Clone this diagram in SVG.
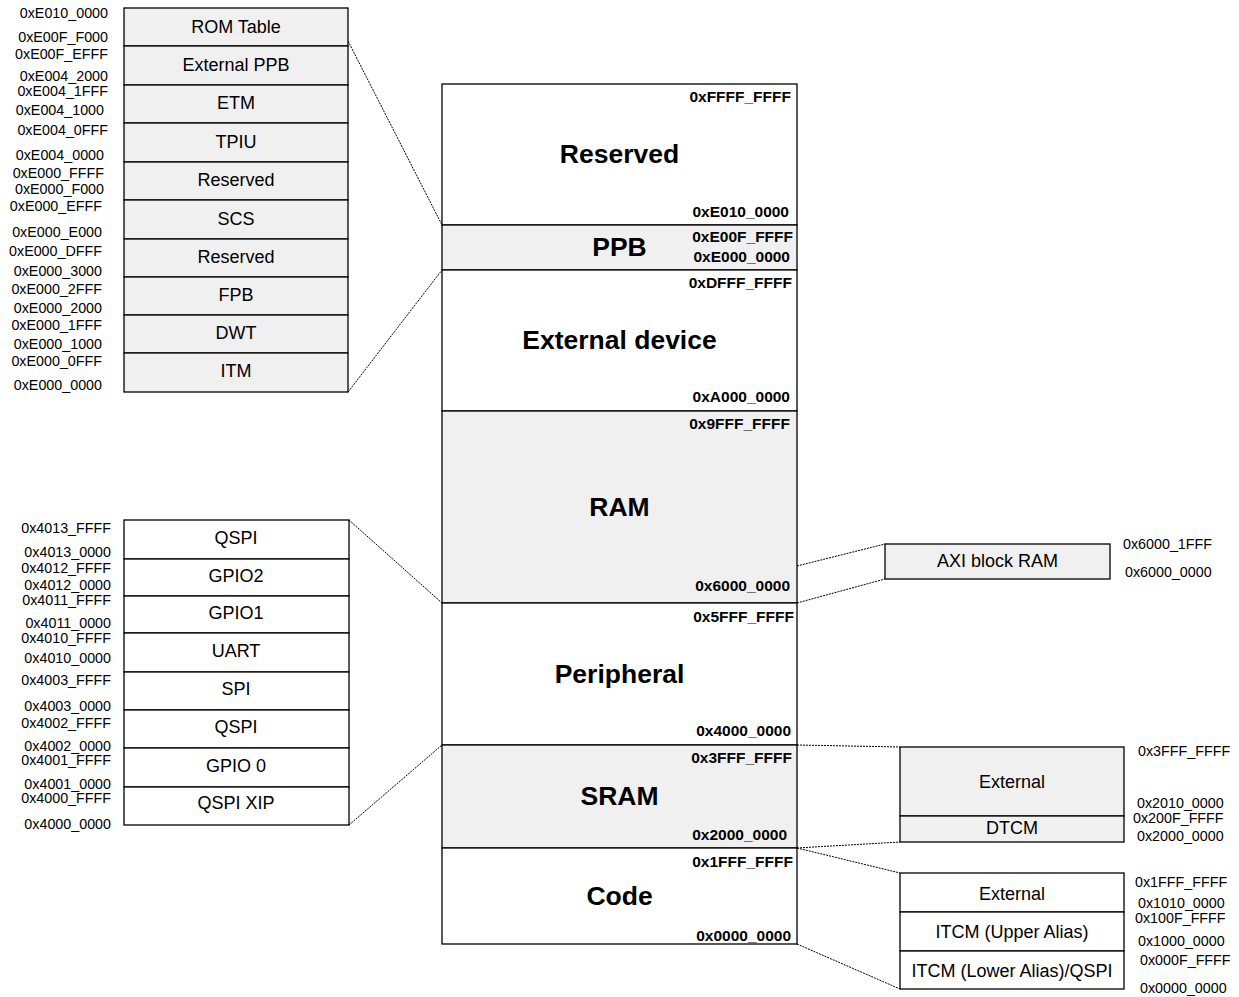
<svg xmlns="http://www.w3.org/2000/svg" width="1239" height="997" viewBox="0 0 1239 997">
<style>
.box{stroke:#000;stroke-width:1.3}
.g{fill:#f0f0f0}
.w{fill:#fff}
.lbl{font-family:"Liberation Sans",Arial,sans-serif;font-size:18px;fill:#000;text-anchor:middle}
.big{font-family:"Liberation Sans",Arial,sans-serif;font-size:26.5px;font-weight:bold;fill:#000;text-anchor:middle}
.ba{font-family:"Liberation Sans",Arial,sans-serif;font-size:15.5px;font-weight:bold;fill:#000;text-anchor:end}
.al{font-family:"Liberation Sans",Arial,sans-serif;font-size:14.3px;fill:#000;text-anchor:end}
.ar{font-family:"Liberation Sans",Arial,sans-serif;font-size:14.3px;fill:#000;text-anchor:start}
.dl{fill:none;stroke:#000;stroke-width:1;stroke-dasharray:2,1}
</style>
<rect width="1239" height="997" fill="#fff"/>

<g id="connectors">
<line class="dl" x1="348" y1="41" x2="442" y2="225"/>
<line class="dl" x1="348" y1="392" x2="442" y2="270"/>
<line class="dl" x1="349" y1="520" x2="442" y2="603"/>
<line class="dl" x1="349" y1="825" x2="442" y2="745"/>
<line class="dl" x1="797" y1="566" x2="885" y2="544"/>
<line class="dl" x1="797" y1="603" x2="885" y2="579"/>
<line class="dl" x1="797" y1="745" x2="900" y2="747"/>
<line class="dl" x1="797" y1="848" x2="900" y2="842"/>
<line class="dl" x1="797" y1="848" x2="900" y2="873"/>
<line class="dl" x1="797" y1="944" x2="900" y2="989"/>
</g>

<g id="ppb-detail">
<rect class="box g" x="124" y="8" width="224" height="38"/>
<rect class="box g" x="124" y="46" width="224" height="39"/>
<rect class="box g" x="124" y="85" width="224" height="38"/>
<rect class="box g" x="124" y="123" width="224" height="39"/>
<rect class="box g" x="124" y="162" width="224" height="38"/>
<rect class="box g" x="124" y="200" width="224" height="39"/>
<rect class="box g" x="124" y="239" width="224" height="38"/>
<rect class="box g" x="124" y="277" width="224" height="38"/>
<rect class="box g" x="124" y="315" width="224" height="38"/>
<rect class="box g" x="124" y="353" width="224" height="39"/>
<text class="lbl" x="236" y="33">ROM Table</text>
<text class="lbl" x="236" y="71">External PPB</text>
<text class="lbl" x="236" y="109">ETM</text>
<text class="lbl" x="236" y="148">TPIU</text>
<text class="lbl" x="236" y="186">Reserved</text>
<text class="lbl" x="236" y="225">SCS</text>
<text class="lbl" x="236" y="263">Reserved</text>
<text class="lbl" x="236" y="301">FPB</text>
<text class="lbl" x="236" y="339">DWT</text>
<text class="lbl" x="236" y="377">ITM</text>
<text class="al" x="108" y="18">0xE010_0000</text>
<text class="al" x="108" y="42">0xE00F_F000</text>
<text class="al" x="108" y="59">0xE00F_EFFF</text>
<text class="al" x="108" y="81">0xE004_2000</text>
<text class="al" x="108" y="96">0xE004_1FFF</text>
<text class="al" x="104" y="115">0xE004_1000</text>
<text class="al" x="108" y="135">0xE004_0FFF</text>
<text class="al" x="104" y="160">0xE004_0000</text>
<text class="al" x="104" y="178">0xE000_FFFF</text>
<text class="al" x="104" y="194">0xE000_F000</text>
<text class="al" x="102" y="211">0xE000_EFFF</text>
<text class="al" x="102" y="237">0xE000_E000</text>
<text class="al" x="102" y="256">0xE000_DFFF</text>
<text class="al" x="102" y="276">0xE000_3000</text>
<text class="al" x="102" y="294">0xE000_2FFF</text>
<text class="al" x="102" y="313">0xE000_2000</text>
<text class="al" x="102" y="330">0xE000_1FFF</text>
<text class="al" x="102" y="349">0xE000_1000</text>
<text class="al" x="102" y="366">0xE000_0FFF</text>
<text class="al" x="102" y="390">0xE000_0000</text>
</g>

<g id="peripheral-detail">
<rect class="box w" x="124" y="520" width="225" height="39"/>
<rect class="box w" x="124" y="559" width="225" height="37"/>
<rect class="box w" x="124" y="596" width="225" height="37"/>
<rect class="box w" x="124" y="633" width="225" height="39"/>
<rect class="box w" x="124" y="672" width="225" height="38"/>
<rect class="box w" x="124" y="710" width="225" height="38"/>
<rect class="box w" x="124" y="748" width="225" height="39"/>
<rect class="box w" x="124" y="787" width="225" height="38"/>
<text class="lbl" x="236" y="544">QSPI</text>
<text class="lbl" x="236" y="582">GPIO2</text>
<text class="lbl" x="236" y="619">GPIO1</text>
<text class="lbl" x="236" y="657">UART</text>
<text class="lbl" x="236" y="695">SPI</text>
<text class="lbl" x="236" y="733">QSPI</text>
<text class="lbl" x="236" y="772">GPIO 0</text>
<text class="lbl" x="236" y="809">QSPI XIP</text>
<text class="al" x="111" y="533">0x4013_FFFF</text>
<text class="al" x="111" y="557">0x4013_0000</text>
<text class="al" x="111" y="573">0x4012_FFFF</text>
<text class="al" x="111" y="590">0x4012_0000</text>
<text class="al" x="111" y="605">0x4011_FFFF</text>
<text class="al" x="111" y="628">0x4011_0000</text>
<text class="al" x="111" y="643">0x4010_FFFF</text>
<text class="al" x="111" y="663">0x4010_0000</text>
<text class="al" x="111" y="685">0x4003_FFFF</text>
<text class="al" x="111" y="711">0x4003_0000</text>
<text class="al" x="111" y="728">0x4002_FFFF</text>
<text class="al" x="111" y="751">0x4002_0000</text>
<text class="al" x="111" y="765">0x4001_FFFF</text>
<text class="al" x="111" y="789">0x4001_0000</text>
<text class="al" x="111" y="803">0x4000_FFFF</text>
<text class="al" x="111" y="829">0x4000_0000</text>
</g>

<g id="reserved">
<rect class="box w" x="442" y="84" width="355" height="141"/>
<text class="big" x="619.5" y="163">Reserved</text>
<text class="ba" x="791" y="102">0xFFFF_FFFF</text>
<text class="ba" x="789" y="217">0xE010_0000</text>
</g>
<g id="ppb">
<rect class="box g" x="442" y="225" width="355" height="45"/>
<text class="big" x="619.5" y="256">PPB</text>
<text class="ba" x="793" y="242">0xE00F_FFFF</text>
<text class="ba" x="790" y="262">0xE000_0000</text>
</g>
<g id="external-device">
<rect class="box w" x="442" y="270" width="355" height="141"/>
<text class="big" x="619.5" y="349">External device</text>
<text class="ba" x="792" y="288">0xDFFF_FFFF</text>
<text class="ba" x="790" y="402">0xA000_0000</text>
</g>
<g id="ram">
<rect class="box g" x="442" y="411" width="355" height="192"/>
<text class="big" x="619.5" y="516">RAM</text>
<text class="ba" x="790" y="429">0x9FFF_FFFF</text>
<text class="ba" x="790" y="591">0x6000_0000</text>
</g>
<g id="peripheral">
<rect class="box w" x="442" y="603" width="355" height="142"/>
<text class="big" x="619.5" y="683">Peripheral</text>
<text class="ba" x="794" y="622">0x5FFF_FFFF</text>
<text class="ba" x="791" y="736">0x4000_0000</text>
</g>
<g id="sram">
<rect class="box g" x="442" y="745" width="355" height="103"/>
<text class="big" x="619.5" y="805">SRAM</text>
<text class="ba" x="792" y="763">0x3FFF_FFFF</text>
<text class="ba" x="787" y="840">0x2000_0000</text>
</g>
<g id="code">
<rect class="box w" x="442" y="848" width="355" height="96"/>
<text class="big" x="619.5" y="905">Code</text>
<text class="ba" x="793" y="867">0x1FFF_FFFF</text>
<text class="ba" x="791" y="941">0x0000_0000</text>
</g>

<g id="axi-block-ram">
<rect class="box g" x="885" y="544" width="225" height="35"/>
<text class="lbl" x="997.5" y="567">AXI block RAM</text>
<text class="ar" x="1123" y="549">0x6000_1FFF</text>
<text class="ar" x="1125" y="577">0x6000_0000</text>
</g>

<g id="sram-detail">
<rect class="box g" x="900" y="747" width="224" height="69"/>
<rect class="box g" x="900" y="816" width="224" height="26"/>
<text class="lbl" x="1012" y="788">External</text>
<text class="lbl" x="1012" y="834">DTCM</text>
<text class="ar" x="1138" y="756">0x3FFF_FFFF</text>
<text class="ar" x="1137" y="807.5">0x2010_0000</text>
<text class="ar" x="1133" y="822.5">0x200F_FFFF</text>
<text class="ar" x="1137" y="841">0x2000_0000</text>
</g>

<g id="code-detail">
<rect class="box w" x="900" y="873" width="224" height="39"/>
<rect class="box w" x="900" y="912" width="224" height="39"/>
<rect class="box w" x="900" y="951" width="224" height="38"/>
<text class="lbl" x="1012" y="900">External</text>
<text class="lbl" x="1012" y="938">ITCM (Upper Alias)</text>
<text class="lbl" x="1012" y="977">ITCM (Lower Alias)/QSPI</text>
<text class="ar" x="1135" y="887">0x1FFF_FFFF</text>
<text class="ar" x="1138" y="908">0x1010_0000</text>
<text class="ar" x="1135" y="923">0x100F_FFFF</text>
<text class="ar" x="1138" y="946">0x1000_0000</text>
<text class="ar" x="1140" y="965">0x000F_FFFF</text>
<text class="ar" x="1140" y="993">0x0000_0000</text>
</g>
</svg>
